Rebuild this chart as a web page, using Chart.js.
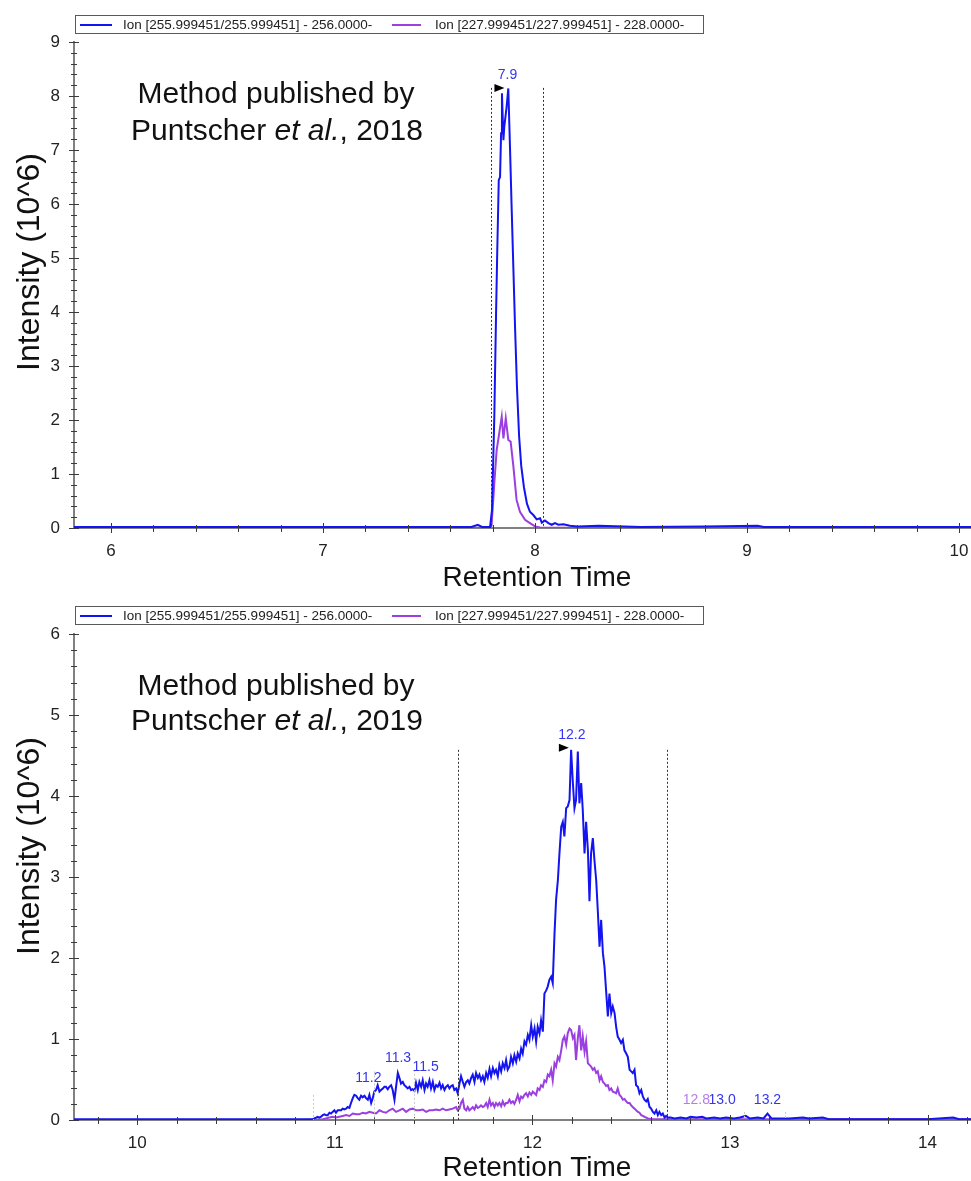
<!DOCTYPE html>
<html>
<head>
<meta charset="utf-8">
<title>EIC comparison</title>
<script src="https://cdn.jsdelivr.net/npm/chart.js@4.4.1/dist/chart.umd.min.js"></script>
<style>
  html, body { margin: 0; padding: 0; background: #fff; }
  canvas { display: block; }
</style>
</head>
<body>
<canvas id="c2018" width="971" height="590"></canvas>
<canvas id="c2019" width="971" height="591"></canvas>
<script>
// --- extracted ion chromatograms: retention time (min) and intensity (10^6) ---

// 2018 method, m/z 256
const rt2018Ion256 = [5.825, 6.50, 7.00, 7.50, 7.70, 7.73, 7.75, 7.788, 7.797, 7.808, 7.816, 7.822, 7.829, 7.835,
  7.840, 7.844, 7.851, 7.855, 7.866, 7.874, 7.882, 7.890, 7.898, 7.906, 7.915, 7.925, 7.935, 7.948, 7.962, 7.976,
  7.992, 8.008, 8.024, 8.032, 8.047, 8.063, 8.079, 8.094, 8.110, 8.134, 8.165, 8.20, 8.30, 8.50, 8.80, 9.05, 9.08,
  9.50, 10.057];
const int2018Ion256 = [0.02, 0.02, 0.02, 0.02, 0.02, 0.06, 0.02, 0.02, 0.33, 2.06, 3.91, 5.15, 6.44, 6.50,
  7.31, 8.05, 7.18, 7.43, 7.80, 8.14, 7.05, 5.90, 4.80, 3.70, 2.60, 1.70, 1.15, 0.75, 0.45, 0.30,
  0.24, 0.16, 0.18, 0.10, 0.14, 0.09, 0.06, 0.09, 0.06, 0.07, 0.04, 0.03, 0.04, 0.02, 0.03, 0.04, 0.02,
  0.02, 0.02];

// 2018 method, m/z 228
const rt2018Ion228 = [5.825, 7.50, 7.791, 7.795, 7.808, 7.819, 7.831, 7.843, 7.851, 7.862, 7.874, 7.885, 7.898,
  7.913, 7.929, 7.953, 7.976, 8.000, 8.024, 10.057];
const int2018Ion228 = [0.00, 0.00, 0.01, 0.04, 0.83, 1.44, 1.75, 2.06, 1.66, 2.03, 1.63, 1.60, 1.14,
  0.52, 0.30, 0.15, 0.09, 0.03, 0.01, 0.00];

// 2019 method, m/z 256
const rt2019Ion256 = [9.680, 10.200, 10.600, 10.800, 10.870,
  10.888, 10.897, 10.905, 10.913, 10.922, 10.930, 10.939, 10.947, 10.956, 10.964, 10.973, 10.981, 10.989, 10.998,
  11.006, 11.015, 11.023, 11.032, 11.040, 11.048, 11.057, 11.065, 11.074, 11.082, 11.091, 11.099, 11.108, 11.116,
  11.124, 11.133, 11.141, 11.150, 11.158, 11.167, 11.175, 11.184, 11.192, 11.200, 11.209, 11.217, 11.226, 11.234,
  11.243, 11.251, 11.259, 11.268, 11.276, 11.285, 11.293, 11.302, 11.310, 11.319, 11.327, 11.335, 11.344, 11.352,
  11.361, 11.369, 11.378, 11.386, 11.394, 11.403, 11.411, 11.420, 11.428, 11.437, 11.445, 11.454, 11.462, 11.470,
  11.479, 11.487, 11.496, 11.504, 11.513, 11.521, 11.530, 11.538, 11.546, 11.555, 11.563, 11.572, 11.580, 11.589,
  11.597, 11.605, 11.614, 11.622, 11.631, 11.639, 11.648, 11.656, 11.665, 11.673, 11.681, 11.690, 11.698, 11.707,
  11.715, 11.724, 11.732, 11.740, 11.749, 11.757, 11.766, 11.774, 11.783, 11.791, 11.800, 11.808, 11.816, 11.825,
  11.833, 11.842, 11.850, 11.859, 11.867, 11.875, 11.884, 11.892, 11.901, 11.909, 11.918, 11.926, 11.935, 11.943,
  11.951, 11.960, 11.968, 11.977, 11.985, 11.994, 12.002, 12.011, 12.019, 12.027, 12.036, 12.044, 12.053, 12.061,
  12.070, 12.078, 12.086, 12.095, 12.103, 12.112, 12.120, 12.129, 12.137, 12.146, 12.154, 12.162, 12.171, 12.179,
  12.188, 12.196, 12.205, 12.213, 12.221, 12.230, 12.238, 12.247, 12.255, 12.264, 12.272, 12.281, 12.289, 12.297,
  12.306, 12.314, 12.323, 12.331, 12.340, 12.348, 12.357, 12.365, 12.373, 12.382, 12.390, 12.399, 12.407, 12.416,
  12.424, 12.432, 12.441, 12.449, 12.458, 12.466, 12.475, 12.483, 12.492, 12.500, 12.508, 12.517, 12.525, 12.534,
  12.542, 12.551, 12.559, 12.567, 12.576, 12.584, 12.593, 12.601, 12.610, 12.618, 12.627, 12.635, 12.643, 12.652,
  12.660, 12.669, 12.677, 12.686,
  12.70, 12.72, 12.75, 12.78, 12.80, 12.83, 12.86, 12.88, 12.92, 12.95, 12.98, 13.02, 13.05, 13.08, 13.10, 13.14,
  13.17, 13.19, 13.21, 13.25, 13.30, 13.37, 13.40, 13.47, 13.50, 13.70, 14.00, 14.13, 14.16, 14.22];
const int2019Ion256 = [0.01, 0.01, 0.01, 0.01, 0.01,
  0.01, 0.02, 0.03, 0.04, 0.03, 0.04, 0.06, 0.07, 0.06, 0.06, 0.09, 0.08, 0.10, 0.12,
  0.09, 0.12, 0.12, 0.12, 0.14, 0.13, 0.14, 0.16, 0.15, 0.21, 0.27, 0.31, 0.30, 0.27,
  0.25, 0.30, 0.28, 0.30, 0.27, 0.25, 0.31, 0.21, 0.27, 0.35, 0.37, 0.43, 0.35, 0.37,
  0.39, 0.41, 0.41, 0.38, 0.41, 0.43, 0.37, 0.25, 0.41, 0.58, 0.52, 0.45, 0.47, 0.43,
  0.41, 0.39, 0.41, 0.37, 0.38, 0.36, 0.46, 0.37, 0.47, 0.41, 0.49, 0.37, 0.45, 0.41,
  0.49, 0.39, 0.47, 0.37, 0.43, 0.41, 0.46, 0.39, 0.43, 0.37, 0.41, 0.43, 0.39, 0.42,
  0.43, 0.37, 0.39, 0.33, 0.45, 0.54, 0.47, 0.41, 0.47, 0.49, 0.45, 0.52, 0.56, 0.47,
  0.58, 0.52, 0.56, 0.49, 0.54, 0.47, 0.58, 0.52, 0.63, 0.54, 0.64, 0.58, 0.62, 0.54,
  0.68, 0.60, 0.70, 0.64, 0.74, 0.62, 0.66, 0.78, 0.70, 0.80, 0.72, 0.82, 0.76, 0.88,
  0.82, 0.97, 0.93, 1.05, 0.99, 1.17, 1.03, 1.13, 0.97, 1.15, 1.07, 1.23, 1.09, 1.56,
  1.60, 1.65, 1.73, 1.77, 1.69, 2.30, 2.72, 2.96, 3.29, 3.62, 3.68, 3.50, 3.85, 3.87,
  3.95, 4.57, 4.16, 3.85, 3.95, 4.55, 3.91, 4.16, 3.83, 3.29, 3.68, 3.33, 2.70, 3.29,
  3.48, 3.21, 2.96, 2.59, 2.14, 2.47, 2.06, 1.89, 1.60, 1.28, 1.56, 1.32, 1.40, 1.32,
  1.15, 1.03, 0.99, 0.95, 0.99, 0.86, 0.82, 0.78, 0.62, 0.60, 0.58, 0.62, 0.43, 0.41,
  0.33, 0.37, 0.29, 0.25, 0.23, 0.26, 0.16, 0.14, 0.10, 0.08, 0.12, 0.06, 0.10, 0.06,
  0.08, 0.03, 0.05, 0.03,
  0.03, 0.02, 0.03, 0.02, 0.04, 0.03, 0.04, 0.02, 0.03, 0.02, 0.03, 0.02, 0.03, 0.05, 0.02, 0.03,
  0.02, 0.08, 0.02, 0.02, 0.02, 0.03, 0.02, 0.03, 0.01, 0.01, 0.01, 0.03, 0.01, 0.01];

// 2019 method, m/z 228
const rt2019Ion228 = [9.680, 10.500, 10.850,
  10.939, 10.956, 10.973, 10.989, 11.006, 11.023, 11.040, 11.057, 11.074, 11.091, 11.108, 11.124, 11.141, 11.158,
  11.175, 11.192, 11.209, 11.226, 11.243, 11.259, 11.276, 11.293, 11.310, 11.327, 11.344, 11.361, 11.378, 11.394,
  11.411, 11.428, 11.445, 11.462, 11.479, 11.496, 11.513, 11.530, 11.546, 11.563, 11.580, 11.597, 11.614,
  11.622, 11.631, 11.639, 11.648, 11.656, 11.665, 11.673, 11.681, 11.690, 11.698, 11.707, 11.715, 11.724, 11.732,
  11.740, 11.749, 11.757, 11.766, 11.774, 11.783, 11.791, 11.800, 11.808, 11.816, 11.825, 11.833, 11.842, 11.850,
  11.859, 11.867, 11.875, 11.884, 11.892, 11.901, 11.909, 11.918, 11.926, 11.935, 11.943, 11.951, 11.960, 11.968,
  11.977, 11.985, 11.994, 12.002, 12.011, 12.019, 12.027, 12.036, 12.044, 12.053, 12.061, 12.070, 12.078, 12.086,
  12.095, 12.103, 12.112, 12.120, 12.129, 12.137, 12.146, 12.154, 12.162, 12.171, 12.179, 12.188, 12.196, 12.205,
  12.213, 12.221, 12.230, 12.238, 12.247, 12.255, 12.264, 12.272, 12.281, 12.289, 12.297, 12.306, 12.314, 12.323,
  12.331, 12.340, 12.348, 12.357, 12.365, 12.373, 12.382, 12.390, 12.399, 12.407, 12.416, 12.424, 12.432, 12.441,
  12.449, 12.458, 12.466, 12.475, 12.483, 12.492, 12.500, 12.508, 12.517, 12.525, 12.534, 12.542, 12.551, 12.559,
  12.567, 12.576, 12.584, 12.610, 12.627, 13.000, 14.220];
const int2019Ion228 = [0.00, 0.00, 0.00,
  0.01, 0.02, 0.03, 0.04, 0.03, 0.04, 0.05, 0.06, 0.05, 0.08, 0.07, 0.07, 0.09, 0.08,
  0.10, 0.09, 0.08, 0.12, 0.10, 0.09, 0.12, 0.14, 0.10, 0.12, 0.14, 0.10, 0.13, 0.14,
  0.12, 0.12, 0.13, 0.10, 0.12, 0.12, 0.13, 0.12, 0.14, 0.12, 0.13, 0.14, 0.16,
  0.12, 0.14, 0.21, 0.25, 0.14, 0.12, 0.16, 0.12, 0.14, 0.16, 0.13, 0.18, 0.15, 0.16,
  0.18, 0.16, 0.17, 0.21, 0.16, 0.25, 0.18, 0.21, 0.16, 0.21, 0.18, 0.21, 0.17, 0.23,
  0.18, 0.21, 0.21, 0.25, 0.21, 0.23, 0.20, 0.25, 0.31, 0.23, 0.29, 0.27, 0.31, 0.33,
  0.29, 0.34, 0.31, 0.35, 0.33, 0.31, 0.39, 0.37, 0.43, 0.41, 0.49, 0.47, 0.56, 0.54,
  0.62, 0.49, 0.70, 0.66, 0.78, 0.74, 0.86, 0.99, 1.03, 0.93, 1.07, 1.13, 1.11, 1.01,
  1.05, 0.74, 1.01, 1.17, 0.86, 1.03, 0.84, 0.97, 0.70, 0.68, 0.66, 0.62, 0.64, 0.58,
  0.60, 0.49, 0.54, 0.47, 0.45, 0.42, 0.43, 0.37, 0.39, 0.35, 0.34, 0.33, 0.39, 0.31,
  0.29, 0.25, 0.26, 0.23, 0.21, 0.21, 0.18, 0.16, 0.14, 0.12, 0.10, 0.09, 0.06, 0.05,
  0.04, 0.03, 0.02, 0.01, 0.01, 0.01, 0.01];

const ionLabels = ['Ion [255.999451/255.999451] - 256.0000-', 'Ion [227.999451/227.999451] - 228.0000-'];
const ionColors = ['#1414f0', '#9b3fe0'];
const peakLabelColors = ['#3535f0', '#b47ee8'];

// integration window (dotted) and small apex markers
const window2018 = [7.791, 8.036];
const windowTop2018 = 8.15;
const window2019 = [11.622, 12.682];
const windowTop2019 = 4.57;
const faintRt2019 = [10.888, 11.200, 11.403, 13.07, 13.28];
const faintTop2019 = [0.31, 0.60, 0.62, 0.10, 0.10];

// labelled peaks: apex time, apex intensity, trace
const peakRt2018 = [7.87];
const peakInt2018 = [8.11];
const peakIon2018 = [0];
const peakRt2019 = [11.17, 11.32, 11.46, 12.20, 12.83, 12.96, 13.19];
const peakInt2019 = [0.33, 0.58, 0.47, 4.57, 0.06, 0.06, 0.06];
const peakIon2019 = [0, 0, 0, 0, 1, 0, 0];

const xTicks2018 = [6, 7, 8, 9, 10];
const yTicks2018 = [0, 1, 2, 3, 4, 5, 6, 7, 8, 9];
const xTicks2019 = [10, 11, 12, 13, 14];
const yTicks2019 = [0, 1, 2, 3, 4, 5, 6];

const FONT = '"Liberation Sans", Arial, Helvetica, sans-serif';

function toPoints(ts, vs) {
  return ts.map((t, i) => ({ x: t, y: vs[i] }));
}

// draws the boxed legend, note text, axis titles, tick marks, windows and peak labels
function makeOverlay(c) {
  return {
    id: 'overlay',
    afterDraw(chart) {
      const g = chart.ctx;
      const xs = chart.scales.x, ys = chart.scales.y, a = chart.chartArea;
      g.save();

      // tick marks crossing the axes, every 0.2
      g.strokeStyle = '#3a3a3a';
      g.lineWidth = 1;
      for (let k = Math.ceil(xs.min * 5); k <= Math.floor(xs.max * 5); k++) {
        const px = Math.round(xs.getPixelForValue(k / 5)) + 0.5;
        const major = k % 5 === 0;
        g.beginPath();
        g.moveTo(px, a.bottom - (major ? 5 : 3));
        g.lineTo(px, a.bottom + (major ? 5 : 4));
        g.stroke();
      }
      for (let k = 0; k <= Math.round(ys.max * 5); k++) {
        const py = Math.round(ys.getPixelForValue(k / 5)) + 0.5;
        const major = k % 5 === 0;
        g.beginPath();
        g.moveTo(a.left - (major ? 5 : 3), py);
        g.lineTo(a.left + (major ? 5 : 3), py);
        g.stroke();
      }

      // integration window
      g.setLineDash([2, 2]);
      g.strokeStyle = '#333';
      c.win.forEach(t => {
        const px = Math.round(xs.getPixelForValue(t)) + 0.5;
        g.beginPath();
        g.moveTo(px, ys.getPixelForValue(c.winTop));
        g.lineTo(px, a.bottom);
        g.stroke();
      });
      g.strokeStyle = '#c8c8c8';
      (c.faintRt || []).forEach((t, i) => {
        const px = Math.round(xs.getPixelForValue(t)) + 0.5;
        g.beginPath();
        g.moveTo(px, ys.getPixelForValue(c.faintTop[i]));
        g.lineTo(px, a.bottom);
        g.stroke();
      });
      g.setLineDash([]);

      // peak labels
      g.font = '14px ' + FONT;
      g.textAlign = 'center';
      g.textBaseline = 'middle';
      c.peakRt.forEach((t, i) => {
        const px = xs.getPixelForValue(t);
        const py = ys.getPixelForValue(c.peakInt[i]);
        g.fillStyle = peakLabelColors[c.peakIon[i]];
        g.fillText(t.toFixed(1), px, py - 15);
      });
      // apex marker on the main peak
      {
        const i = c.marker;
        const px = xs.getPixelForValue(c.peakRt[i]);
        const py = ys.getPixelForValue(c.peakInt[i]);
        g.fillStyle = '#000';
        g.beginPath();
        g.moveTo(px - 3, py - 2);
        g.lineTo(px - 13, py - 6);
        g.lineTo(px - 13, py + 2);
        g.closePath();
        g.fill();
      }

      // legend box
      g.strokeStyle = '#5a5a5a';
      g.lineWidth = 1;
      g.strokeRect(75.5, c.legendTop + 0.5, 628, 18);
      const mid = c.legendTop + 10;
      const sx = [[80, 112, 123], [392, 421, 435]];
      g.font = '13.5px ' + FONT;
      g.textAlign = 'left';
      g.textBaseline = 'middle';
      ionLabels.forEach((txt, i) => {
        g.strokeStyle = ionColors[i];
        g.lineWidth = 2;
        g.beginPath();
        g.moveTo(sx[i][0], mid);
        g.lineTo(sx[i][1], mid);
        g.stroke();
        g.fillStyle = '#222';
        g.fillText(txt, sx[i][2], mid);
      });

      // note
      g.fillStyle = '#111';
      g.font = '30px ' + FONT;
      g.textAlign = 'center';
      g.fillText('Method published by', 276, c.noteY[0]);
      const parts = [['Puntscher ', ''], ['et al.', 'italic '], [', ' + c.year, '']];
      let w = 0;
      parts.forEach(p => { g.font = p[1] + '30px ' + FONT; w += g.measureText(p[0]).width; });
      let x = 277 - w / 2;
      g.textAlign = 'left';
      parts.forEach(p => {
        g.font = p[1] + '30px ' + FONT;
        g.fillText(p[0], x, c.noteY[1]);
        x += g.measureText(p[0]).width;
      });

      // axis titles
      g.textAlign = 'center';
      g.fillStyle = '#111';
      g.font = '28px ' + FONT;
      g.fillText('Retention Time', 537, c.xTitleY);
      g.font = '32px ' + FONT;
      g.translate(30, c.yTitleY);
      g.rotate(-Math.PI / 2);
      g.fillText('Intensity (10^6)', 0, 0);

      g.restore();
    }
  };
}

function buildChart(id, c) {
  const ctx = document.getElementById(id).getContext('2d');
  return new Chart(ctx, {
    type: 'line',
    data: {
      datasets: [
        { label: ionLabels[0], data: toPoints(c.rtA, c.intA), borderColor: ionColors[0], borderWidth: 2,
          pointRadius: 0, tension: 0 },
        { label: ionLabels[1], data: toPoints(c.rtB, c.intB), borderColor: ionColors[1], borderWidth: 2,
          pointRadius: 0, tension: 0 }
      ]
    },
    options: {
      responsive: false,
      animation: false,
      devicePixelRatio: 1,
      layout: { padding: { top: c.top, left: 0, right: 0, bottom: 0 } },
      plugins: { legend: { display: false }, tooltip: { enabled: false } },
      scales: {
        x: {
          type: 'linear', min: c.xMin, max: c.xMax,
          grid: { display: false },
          border: { display: true, color: '#808080', width: 2 },
          ticks: { color: '#222', font: { family: FONT, size: 17 }, padding: 5, autoSkip: false, maxRotation: 0 },
          afterBuildTicks: s => { s.ticks = c.xTicks.map(v => ({ value: v })); },
          afterFit: s => { s.height = c.xHeight; s.paddingLeft = 0; s.paddingRight = 0; }
        },
        y: {
          type: 'linear', min: 0, max: c.yMax,
          grid: { display: false },
          border: { display: true, color: '#808080', width: 2 },
          ticks: { color: '#222', font: { family: FONT, size: 17 }, padding: 6, autoSkip: false },
          afterBuildTicks: s => { s.ticks = c.yTicks.map(v => ({ value: v })); },
          afterFit: s => { s.width = 74; s.paddingTop = 0; s.paddingBottom = 0; }
        }
      }
    },
    plugins: [makeOverlay(c)]
  });
}

buildChart('c2018', {
  rtA: rt2018Ion256, intA: int2018Ion256, rtB: rt2018Ion228, intB: int2018Ion228,
  xMin: 5.825, xMax: 10.057, yMax: 9, xTicks: xTicks2018, yTicks: yTicks2018,
  top: 42, xHeight: 62,
  win: window2018, winTop: windowTop2018,
  peakRt: peakRt2018, peakInt: peakInt2018, peakIon: peakIon2018, marker: 0,
  legendTop: 15, noteY: [95, 132], year: 2018, xTitleY: 578, yTitleY: 262
});

buildChart('c2019', {
  rtA: rt2019Ion256, intA: int2019Ion256, rtB: rt2019Ion228, intB: int2019Ion228,
  xMin: 9.68, xMax: 14.22, yMax: 6, xTicks: xTicks2019, yTicks: yTicks2019,
  top: 44, xHeight: 61,
  win: window2019, winTop: windowTop2019, faintRt: faintRt2019, faintTop: faintTop2019,
  peakRt: peakRt2019, peakInt: peakInt2019, peakIon: peakIon2019, marker: 3,
  legendTop: 16, noteY: [97, 132], year: 2019, xTitleY: 578, yTitleY: 256
});
</script>
</body>
</html>
